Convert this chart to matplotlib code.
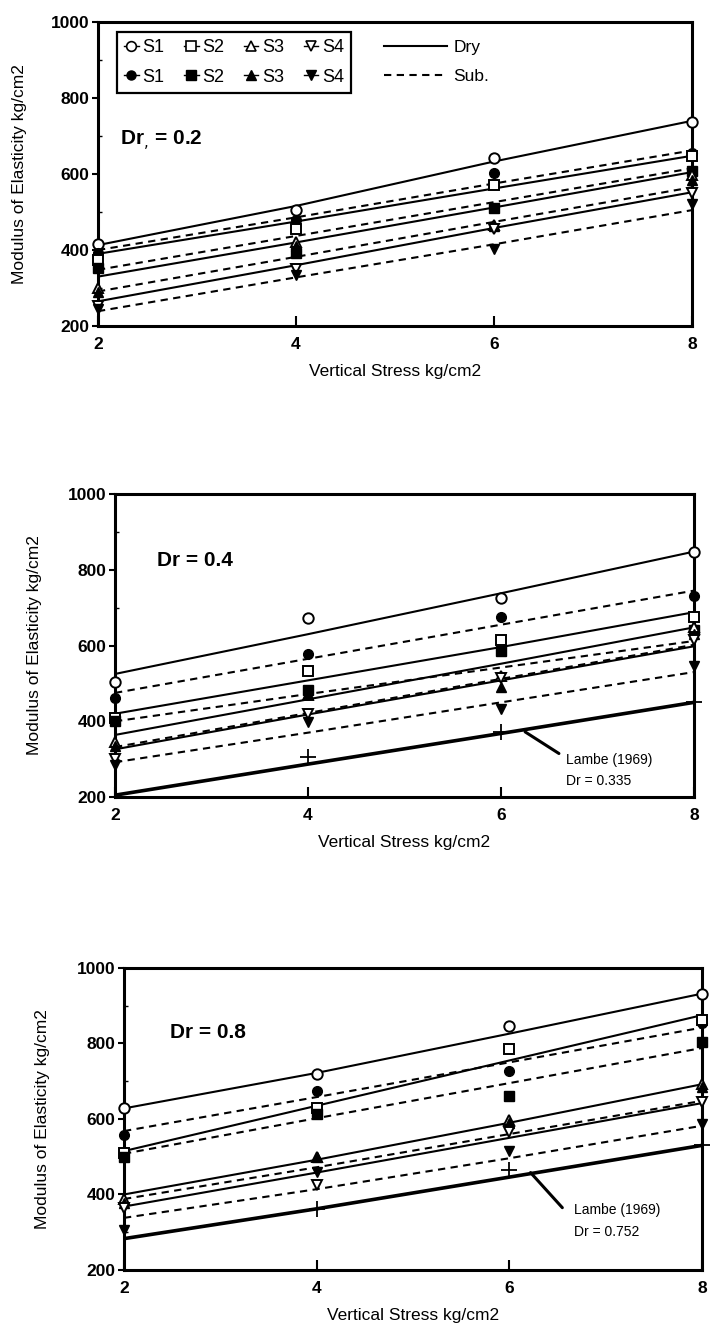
"""
Modulo de elasticidad frente a esfuerzo vertical, tres densidades relativas.
Replica de la figura escaneada: suelos S1-S4, seco (linea continua) y sumergido (discontinua).
"""

import matplotlib

matplotlib.use("Agg")
import matplotlib.pyplot as plt
from matplotlib.lines import Line2D
from matplotlib.ticker import MultipleLocator

plt.rcParams["font.family"] = ["Liberation Sans", "DejaVu Sans"]

ESFUERZO = [2, 4, 6, 8]
SUELOS = ["S1", "S2", "S3", "S4"]
MARCAS = ["o", "s", "^", "v"]

# Dr = 0.2 : rectas ajustadas (seco / sumergido) y puntos medidos
DR02_SECO_RECTA = [[413, 516, 633, 740], [390, 475, 562, 648], [330, 420, 512, 605], [265, 360, 458, 552]]
DR02_SUB_RECTA = [[400, 486, 575, 662], [348, 437, 526, 615], [291, 382, 474, 565], [239, 328, 415, 505]]
DR02_SECO_PUNTOS = [[417, 505, 642, 738], [375, 455, 572, 648], [300, 420, 466, 598], [252, 350, 455, 550]]
DR02_SUB_PUNTOS = [[392, 478, 602, 655], [352, 392, 510, 608], [290, 410, 462, 585], [245, 335, 402, 522]]

# Dr = 0.4
DR04_SECO_RECTA = [[525, 630, 738, 848], [420, 508, 596, 688], [364, 458, 552, 648], [326, 418, 508, 598]]
DR04_SUB_RECTA = [[475, 565, 655, 745], [400, 472, 542, 612], [332, 422, 512, 602], [292, 370, 450, 530]]
DR04_SECO_PUNTOS = [[505, 672, 725, 848], [410, 532, 615, 675], [345, 470, 520, 650], [300, 418, 515, 615]]
DR04_SUB_PUNTOS = [[462, 578, 676, 730], [400, 482, 585, 640], [335, 472, 490, 630], [285, 398, 432, 545]]
DR04_LAMBE_RECTA = [205, 287, 368, 450]
DR04_LAMBE_X = [4, 6, 8]
DR04_LAMBE_PUNTOS = [305, 372, 452]

# Dr = 0.8
DR08_SECO_RECTA = [[628, 722, 826, 932], [515, 635, 755, 875], [400, 492, 590, 692], [368, 458, 550, 642]]
DR08_SUB_RECTA = [[568, 658, 750, 842], [508, 602, 695, 788], [388, 472, 560, 648], [338, 414, 496, 582]]
DR08_SECO_PUNTOS = [[628, 720, 845, 932], [510, 630, 785, 862], [388, 500, 598, 692], [365, 425, 565, 645]]
DR08_SUB_PUNTOS = [[558, 675, 728, 855], [500, 612, 660, 805], [378, 498, 590, 685], [305, 460, 515, 588]]
DR08_LAMBE_RECTA = [283, 362, 446, 530]
DR08_LAMBE_X = [4, 6, 8]
DR08_LAMBE_PUNTOS = [362, 465, 532]

LW = 1.5
GUION = (3.5, 2.6)


def preparar_ejes(ax):
    ax.set_xlim(2, 8)
    ax.set_ylim(200, 1000)
    ax.set_xticks(ESFUERZO)
    ax.set_yticks([200, 400, 600, 800, 1000])
    ax.yaxis.set_minor_locator(MultipleLocator(100))
    ax.tick_params(axis="x", direction="in", length=7, width=1.5, pad=8, labelsize=12.5)
    ax.tick_params(axis="y", which="major", direction="out", length=4, width=1.5, pad=2, labelsize=12.5)
    ax.tick_params(axis="y", which="minor", direction="in", length=3, width=1)
    for lab in ax.get_xticklabels() + ax.get_yticklabels():
        lab.set_fontweight("bold")
    for s in ax.spines.values():
        s.set_linewidth(2.2)
    ax.set_ylabel("Modulus of Elasticity kg/cm2", fontsize=12.5)
    ax.set_xlabel("Vertical Stress kg/cm2", fontsize=12.5)


def dibujar_panel(ax, seco_recta, sub_recta, seco_pts, sub_pts):
    for i in range(4):
        ax.plot(ESFUERZO, seco_recta[i], "-", color="k", lw=LW)
        ax.plot(ESFUERZO, sub_recta[i], "--", color="k", lw=LW, dashes=GUION)
    for i, m in enumerate(MARCAS):
        ax.plot(ESFUERZO, seco_pts[i], m, ms=7.5, mfc="white", mec="k", mew=1.4,
                linestyle="none", clip_on=False, zorder=4)
        ax.plot(ESFUERZO, sub_pts[i], m, ms=7, mfc="k", mec="k",
                linestyle="none", clip_on=False, zorder=4)


def dibujar_lambe(ax, recta, xs, pts, texto, y_texto, flecha):
    ax.plot(ESFUERZO, recta, "-", color="k", lw=2.6)
    ax.plot(xs, pts, "+", ms=12, mew=1.3, color="k", linestyle="none", clip_on=False)
    ax.annotate("", xy=flecha[1], xytext=flecha[0],
                arrowprops=dict(arrowstyle="-", lw=2.2, color="k", shrinkA=0, shrinkB=0))
    ax.text(6.67, y_texto[0], "Lambe (1969)", fontsize=10, va="center", ha="left")
    ax.text(6.67, y_texto[1], texto, fontsize=10, va="center", ha="left")


def leyendas(ax):
    handles, etiquetas = [], []
    for s, m in zip(SUELOS, MARCAS):
        handles.append(Line2D([], [], color="k", lw=1, marker=m, ms=7, mfc="white", mec="k", mew=1.2))
        etiquetas.append(s)
        handles.append(Line2D([], [], color="k", lw=1, marker=m, ms=6.5, mfc="k", mec="k"))
        etiquetas.append(s)
    ley = ax.legend(handles, etiquetas, ncol=4, loc="upper left", bbox_to_anchor=(0.032, 0.968),
                    fontsize=13, handlelength=0.8, handletextpad=0.2, columnspacing=1.1,
                    labelspacing=0.7, borderpad=0.4, borderaxespad=0, frameon=True,
                    fancybox=False, framealpha=1, edgecolor="k")
    ley.get_frame().set_linewidth(1.6)
    ax.add_artist(ley)
    estados = [Line2D([], [], color="k", lw=LW),
               Line2D([], [], color="k", lw=LW, linestyle="--", dashes=GUION)]
    ax.legend(estados, ["Dry", "Sub."], loc="upper left", bbox_to_anchor=(0.47, 0.965),
              fontsize=12.5, handlelength=3.6, handletextpad=0.4, labelspacing=0.8,
              borderpad=0.4, borderaxespad=0, frameon=False)


def main():
    fig = plt.figure(figsize=(7.13, 13.28), dpi=100)
    ax1 = fig.add_axes([0.1374, 0.7545, 0.8331, 0.2289])
    ax2 = fig.add_axes([0.1613, 0.3998, 0.8121, 0.2282])
    ax3 = fig.add_axes([0.1739, 0.0437, 0.8107, 0.2274])

    for ax in (ax1, ax2, ax3):
        preparar_ejes(ax)

    dibujar_panel(ax1, DR02_SECO_RECTA, DR02_SUB_RECTA, DR02_SECO_PUNTOS, DR02_SUB_PUNTOS)
    dibujar_panel(ax2, DR04_SECO_RECTA, DR04_SUB_RECTA, DR04_SECO_PUNTOS, DR04_SUB_PUNTOS)
    dibujar_panel(ax3, DR08_SECO_RECTA, DR08_SUB_RECTA, DR08_SECO_PUNTOS, DR08_SUB_PUNTOS)

    dibujar_lambe(ax2, DR04_LAMBE_RECTA, DR04_LAMBE_X, DR04_LAMBE_PUNTOS, "Dr = 0.335",
                  (298, 242), ((6.6, 315), (6.25, 372)))
    dibujar_lambe(ax3, DR08_LAMBE_RECTA, DR08_LAMBE_X, DR08_LAMBE_PUNTOS, "Dr = 0.752",
                  (360, 300), ((6.55, 365), (6.22, 458)))

    ax1.text(2.22, 687, "Dr$_{,}$ = 0.2", fontsize=15, fontweight="bold", va="center")
    ax2.text(2.43, 825, "Dr = 0.4", fontsize=15, fontweight="bold", va="center")
    ax3.text(2.48, 830, "Dr = 0.8", fontsize=15, fontweight="bold", va="center")

    leyendas(ax1)

    # posicion de los titulos de eje como en el escaneo
    for ax, xlab in ((ax1, -0.120), (ax2, -0.126), (ax3, -0.128)):
        ax.yaxis.set_label_coords(xlab, 0.5)
        ax.xaxis.set_label_coords(0.5, -0.125)

    fig.savefig("out.png", dpi=100)
    plt.close(fig)


if __name__ == "__main__":
    main()
